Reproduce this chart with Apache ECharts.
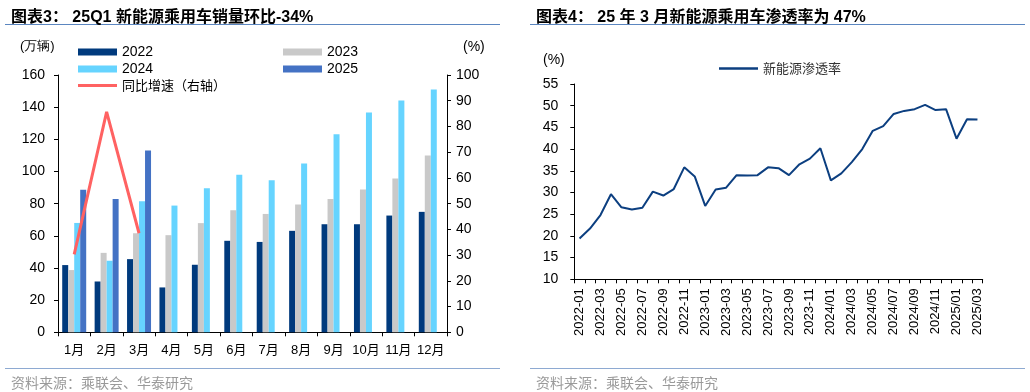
<!DOCTYPE html>
<html><head><meta charset="utf-8">
<script src="https://cdn.jsdelivr.net/npm/echarts@6/dist/echarts.min.js"></script>
<style>html,body{margin:0;padding:0;background:#fff}#c{width:1030px;height:392px}</style>
</head><body><div id="c"></div>
<script>
// ---- Left chart data (万辆, %) ----
const months = ['1月','2月','3月','4月','5月','6月','7月','8月','9月','10月','11月','12月'];
const sales2022 = [41.8, 31.6, 45.5, 27.9, 42.0, 56.9, 56.2, 63.1, 67.2, 67.2, 72.6, 74.9];
const sales2023 = [38.7, 49.4, 61.6, 60.4, 67.9, 75.9, 73.6, 79.4, 82.9, 88.8, 95.6, 109.9];
const sales2024 = [68.0, 44.5, 81.5, 78.8, 89.6, 98.0, 94.5, 104.9, 123.1, 136.7, 144.2, 151.0];
const sales2025 = [88.7, 82.9, 113.0, null, null, null, null, null, null, null, null, null];
const yoyGrowth = [30.3, 85.7, 38.5, null, null, null, null, null, null, null, null, null];

// ---- Right chart data (%) ----
const periods = ['2022-01','2022-02','2022-03','2022-04','2022-05','2022-06','2022-07','2022-08','2022-09','2022-10','2022-11','2022-12',
  '2023-01','2023-02','2023-03','2023-04','2023-05','2023-06','2023-07','2023-08','2023-09','2023-10','2023-11','2023-12',
  '2024/01','2024/02','2024/03','2024/04','2024/05','2024/06','2024/07','2024/08','2024/09','2024/10','2024/11','2024/12',
  '2025/01','2025/02','2025/03'];
const penetration = [19.4, 21.7, 24.8, 29.6, 26.6, 26.1, 26.5, 30.2, 29.3, 30.8, 35.8, 33.7,
  26.9, 30.7, 31.1, 34.0, 33.9, 34.0, 35.8, 35.6, 34.0, 36.5, 37.8, 40.2,
  32.8, 34.4, 37.0, 40.0, 44.2, 45.3, 48.1, 48.8, 49.2, 50.2, 49.0, 49.2,
  42.4, 46.9, 46.8];

const FONT = '"Liberation Sans", Arial, "Noto Sans CJK SC", sans-serif';
const CJK = '"Noto Sans CJK SC", sans-serif';
const axisLineStyle = {lineStyle: {color: '#000', width: 1}};
const tickStyle = {show: true, inside: false, length: 4, lineStyle: {color: '#000'}};
const lbl = {color: '#000', fontSize: 14, fontFamily: FONT};

const chart = echarts.init(document.getElementById('c'), null, {renderer: 'canvas'});
const legendBase = {orient: 'horizontal', itemWidth: 39, itemHeight: 7, itemGap: 10, icon: 'rect',
  textStyle: {fontSize: 14, color: '#000', fontFamily: FONT}, padding: 0, selectedMode: false};

chart.setOption({
  animation: false,
  textStyle: {fontFamily: FONT},
  title: [
    {text: '图表3： 25Q1 新能源乘用车销量环比-34%', left: 6, top: 5, textStyle: {fontSize: 16, fontWeight: 'bold', color: '#000', fontFamily: FONT}},
    {text: '图表4： 25 年 3 月新能源乘用车渗透率为 47%', left: 531, top: 5, textStyle: {fontSize: 16, fontWeight: 'bold', color: '#000', fontFamily: FONT}},
    {text: '资料来源：乘联会、华泰研究', left: 6, top: 371, textStyle: {fontSize: 14, fontWeight: 'normal', color: '#9a9a9a', fontFamily: CJK}},
    {text: '资料来源：乘联会、华泰研究', left: 531, top: 371, textStyle: {fontSize: 14, fontWeight: 'normal', color: '#9a9a9a', fontFamily: CJK}}
  ],
  graphic: [
    {type: 'line', shape: {x1: 5, y1: 24.5, x2: 500, y2: 24.5}, style: {stroke: '#5b86c0', lineWidth: 1}},
    {type: 'line', shape: {x1: 530, y1: 24.5, x2: 1025, y2: 24.5}, style: {stroke: '#5b86c0', lineWidth: 1}},
    {type: 'line', shape: {x1: 5, y1: 368.5, x2: 500, y2: 368.5}, style: {stroke: '#8eaad2', lineWidth: 1}},
    {type: 'line', shape: {x1: 530, y1: 368.5, x2: 1025, y2: 368.5}, style: {stroke: '#8eaad2', lineWidth: 1}},
    {type: 'text', left: 20, top: 40, style: {text: '(万辆)', fontSize: 13, fill: '#000', font: '13px ' + CJK}},
    {type: 'text', left: 463, top: 40, style: {text: '(%)', fill: '#000', font: '14px ' + FONT}},
    {type: 'text', left: 543, top: 53, style: {text: '(%)', fill: '#000', font: '14px ' + FONT}}
  ],
  legend: [
    Object.assign({}, legendBase, {left: 78, top: 45, data: ['2022']}),
    Object.assign({}, legendBase, {left: 283, top: 45, data: ['2023']}),
    Object.assign({}, legendBase, {left: 78, top: 62, data: ['2024']}),
    Object.assign({}, legendBase, {left: 283, top: 62, data: ['2025']}),
    Object.assign({}, legendBase, {left: 78, top: 79, itemHeight: 3, data: ['同比增速（右轴）'], textStyle: {fontSize: 13, color: '#000', fontFamily: CJK}}),
    Object.assign({}, legendBase, {left: 719, top: 62, itemHeight: 2.5, data: ['新能源渗透率'], textStyle: {fontSize: 13, color: '#333', fontFamily: CJK}})
  ],
  grid: [
    {left: 58, top: 75, width: 389, height: 257.3, containLabel: false},
    {left: 574.3, top: 84, width: 408.4, height: 195.3, containLabel: false}
  ],
  xAxis: [
    {type: 'category', gridIndex: 0, data: months, boundaryGap: true, axisLine: axisLineStyle,
      axisTick: Object.assign({}, tickStyle, {alignWithLabel: false, interval: 0}),
      axisLabel: {color: '#000', fontSize: 13, fontFamily: FONT, margin: 12, interval: 0}},
    {type: 'category', gridIndex: 1, data: periods, boundaryGap: true, axisLine: axisLineStyle,
      axisTick: Object.assign({}, tickStyle, {interval: 0}),
      axisLabel: {color: '#000', fontSize: 13, fontFamily: FONT, margin: 9, interval: 1, rotate: 90}}
  ],
  yAxis: [
    {type: 'value', gridIndex: 0, min: 0, max: 160, interval: 20, position: 'left',
      axisLine: Object.assign({show: true}, axisLineStyle), axisTick: tickStyle, splitLine: {show: false},
      axisLabel: Object.assign({}, lbl, {margin: 13})},
    {type: 'value', gridIndex: 0, min: 0, max: 100, interval: 10, position: 'right',
      axisLine: Object.assign({show: true}, axisLineStyle), axisTick: tickStyle, splitLine: {show: false},
      axisLabel: Object.assign({}, lbl, {margin: 9})},
    {type: 'value', gridIndex: 1, min: 10, max: 55, interval: 5, position: 'left',
      axisLine: Object.assign({show: true}, axisLineStyle), axisTick: tickStyle, splitLine: {show: false},
      axisLabel: Object.assign({}, lbl, {margin: 16})}
  ],
  series: [
    {name: '2022', type: 'bar', xAxisIndex: 0, yAxisIndex: 0, data: sales2022, itemStyle: {color: '#003a7d'}, barGap: '0%', barCategoryGap: '26%'},
    {name: '2023', type: 'bar', xAxisIndex: 0, yAxisIndex: 0, data: sales2023, itemStyle: {color: '#c9c9c9'}},
    {name: '2024', type: 'bar', xAxisIndex: 0, yAxisIndex: 0, data: sales2024, itemStyle: {color: '#66d4ff'}},
    {name: '2025', type: 'bar', xAxisIndex: 0, yAxisIndex: 0, data: sales2025, itemStyle: {color: '#4472c4'}},
    {name: '同比增速（右轴）', type: 'line', xAxisIndex: 0, yAxisIndex: 1, data: yoyGrowth, symbol: 'none',
      lineStyle: {color: '#ff6262', width: 3}, itemStyle: {color: '#ff6262'}, connectNulls: false},
    {name: '新能源渗透率', type: 'line', xAxisIndex: 1, yAxisIndex: 2, data: penetration, symbol: 'none',
      lineStyle: {color: '#0c3f80', width: 2}, itemStyle: {color: '#0c3f80'}}
  ]
});
</script></body></html>
